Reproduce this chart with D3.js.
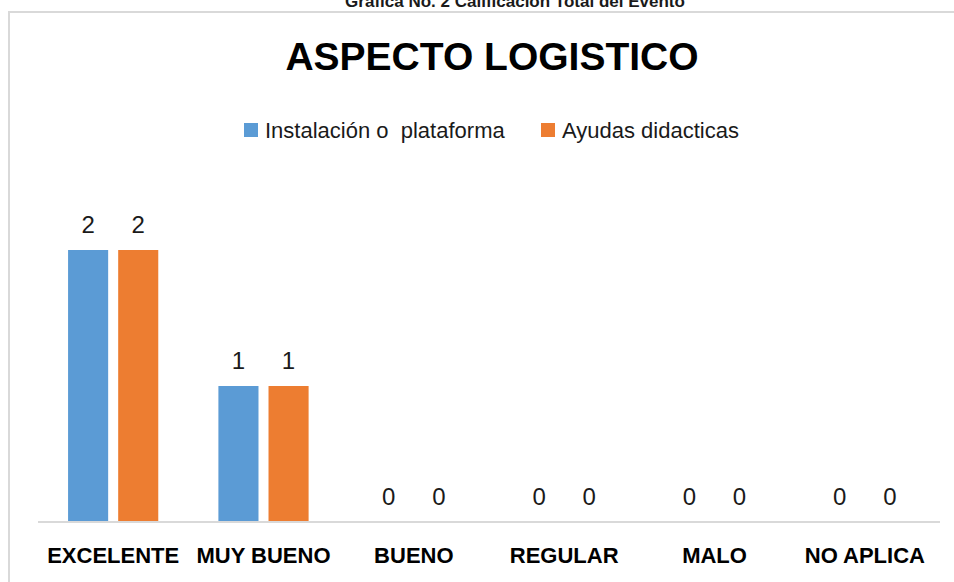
<!DOCTYPE html>
<html>
<head>
<meta charset="utf-8">
<script src="https://cdn.jsdelivr.net/npm/d3@7"></script>
<style>
  html, body { margin: 0; padding: 0; background: #fff; }
  svg { display: block; }
  text { font-family: "Liberation Sans Narrow", "Arial Narrow", "Liberation Sans", Arial, sans-serif; fill: #000; }
</style>
</head>
<body>
<svg id="chart" width="954" height="582"></svg>
<script>
const pageTitle = "Grafica No. 2 Calificación Total del Evento";
const chartTitle = "ASPECTO LOGISTICO";
const categories = ["EXCELENTE", "MUY BUENO", "BUENO", "REGULAR", "MALO", "NO APLICA"];
const seriesNames = ["Instalación o  plataforma", "Ayudas didacticas"];
const instalacion = [2, 1, 0, 0, 0, 0];
const ayudas = [2, 1, 0, 0, 0, 0];
const colors = ["#5b9bd5", "#ed7d31"];

const seriesValues = [instalacion, ayudas];
const svg = d3.select("#chart");
const W = 954, H = 582;
const plot = { left: 38, right: 940, bottom: 522, top2: 250 };

// outer frame
svg.append("rect")
  .attr("x", 9).attr("y", 12)
  .attr("width", W + 20).attr("height", H + 20)
  .attr("fill", "none").attr("stroke", "#d9d9d9").attr("stroke-width", 2);

// page caption (cut at top, as in the reference)
svg.append("text")
  .attr("x", 515).attr("y", 7)
  .attr("text-anchor", "middle")
  .style("font-weight", "bold").style("font-size", "17px")
  .style("fill", "#1a1a1a")
  .text(pageTitle);

// chart title
svg.append("text")
  .attr("x", 492).attr("y", 70)
  .attr("text-anchor", "middle")
  .style("font-weight", "bold").style("font-size", "39px")
  .text(chartTitle);

const x0 = d3.scaleBand().domain(categories).range([plot.left, plot.right]).paddingInner(0.4).paddingOuter(0.2);
const x1 = d3.scaleBand().domain(seriesNames).range([0, x0.bandwidth()]).paddingInner(0.2);
const y = d3.scaleLinear().domain([0, 2]).range([plot.bottom, plot.top2]);

// legend
const legendPos = [244, 541];
const legend = svg.append("g");
seriesNames.forEach((s, i) => {
  legend.append("rect").attr("x", legendPos[i]).attr("y", 123).attr("width", 14).attr("height", 14).attr("fill", colors[i]);
  legend.append("text").attr("x", legendPos[i] + 21).attr("y", 138)
    .attr("xml:space", "preserve")
    .style("white-space", "pre")
    .style("font-size", "22px").style("fill", "#1a1a1a").text(s);
});

// bars
const groups = svg.append("g").selectAll("g")
  .data(categories).join("g")
  .attr("transform", d => `translate(${x0(d)},0)`);

groups.selectAll("rect")
  .data((d, ci) => seriesNames.map((s, si) => ({ s, si, v: seriesValues[si][ci] })))
  .join("rect")
  .attr("x", d => x1(d.s))
  .attr("y", d => y(d.v))
  .attr("width", x1.bandwidth())
  .attr("height", d => y(0) - y(d.v))
  .attr("fill", d => colors[d.si]);

groups.selectAll("text.val")
  .data((d, ci) => seriesNames.map((s, si) => ({ s, si, v: seriesValues[si][ci] })))
  .join("text")
  .attr("class", "val")
  .attr("x", d => x1(d.s) + x1.bandwidth() / 2)
  .attr("y", d => y(d.v) - 17)
  .attr("text-anchor", "middle")
  .style("font-size", "24px").style("fill", "#1a1a1a")
  .text(d => d.v);

// x axis
const xAxis = svg.append("g").attr("transform", `translate(0,${plot.bottom})`)
  .call(d3.axisBottom(x0).tickSize(0).tickPadding(0));
xAxis.select(".domain").attr("stroke", "#d9d9d9").attr("stroke-width", 2)
  .attr("d", `M${plot.left},0H${plot.right}`);
xAxis.selectAll(".tick text")
  .attr("dy", null).attr("y", 41)
  .style("font-size", "22px").style("font-weight", "bold")
  .style("font-family", '"Liberation Sans Narrow", "Arial Narrow", "Liberation Sans", Arial, sans-serif')
  .style("fill", "#000");
</script>
</body>
</html>
